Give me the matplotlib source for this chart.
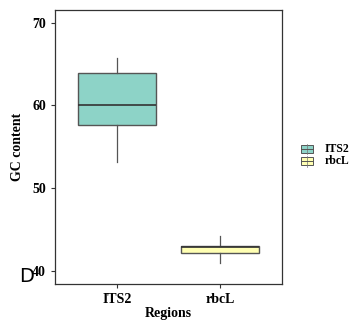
import numpy as np
import matplotlib.pyplot as plt
from matplotlib.patches import Rectangle
from matplotlib.lines import Line2D

regions = ['ITS2', 'rbcL']
q1 = [57.6, 42.15]
med = [60.0, 42.9]
q3 = [63.9, 43.0]
wlo = [53.1, 41.0]
whi = [65.7, 44.2]
fills = ['#8dd3c7', '#ffffb3']

plt.rcParams['font.family'] = ['Liberation Serif', 'DejaVu Serif']

fig = plt.figure(figsize=(3.54, 3.22), dpi=100)
ax = fig.add_axes([55/354, 1 - 284/322, 227/354, 274.5/322])

stats = []
for i, r in enumerate(regions):
    stats.append({'label': r, 'q1': q1[i], 'med': med[i], 'q3': q3[i],
                  'whislo': wlo[i], 'whishi': whi[i], 'fliers': []})

bp = ax.bxp(stats, positions=[1, 2], widths=0.75, patch_artist=True,
            showcaps=False,
            boxprops=dict(edgecolor='#555555', linewidth=1.0),
            medianprops=dict(color='#333333', linewidth=1.2),
            whiskerprops=dict(color='#555555', linewidth=0.9))
for patch, c in zip(bp['boxes'], fills):
    patch.set_facecolor(c)

ax.set_xlim(0.4, 2.6)
ax.set_ylim(38.4, 71.6)
ax.set_yticks([40, 50, 60, 70])
ax.tick_params(axis='both', labelsize=10, color='#333333', length=3, width=0.8)
for lab in ax.get_xticklabels() + ax.get_yticklabels():
    lab.set_fontweight('bold')
for s in ax.spines.values():
    s.set_color('#333333')
    s.set_linewidth(0.9)

ax.set_ylabel('GC content', fontsize=10, fontweight='bold', labelpad=6)
ax.set_xlabel('Regions', fontsize=10, fontweight='bold', labelpad=1)

# legend keys
for j, (r, c) in enumerate(zip(regions, fills)):
    y = 1 - (149 + j * 12) / 322
    fig.lines.append(Line2D([307/354, 307/354], [y - 5.5/322, y + 5.5/322],
                            transform=fig.transFigure, color='#777777',
                            linewidth=0.5))
    fig.patches.append(Rectangle((301/354, y - 4/322), 12/354, 8/322,
                                 transform=fig.transFigure, facecolor=c,
                                 edgecolor='#555555', linewidth=0.7))
    fig.lines.append(Line2D([301/354, 313/354], [y, y], transform=fig.transFigure,
                            color='#555555', linewidth=0.7))
    fig.text(325/354, y, r, fontsize=8.5, fontweight='bold', va='center', ha='left')

fig.text(34/354, 1 - 277/322, 'D', fontsize=14, family='DejaVu Sans',
         va='center', ha='right')

fig.savefig('out.png', dpi=100)
